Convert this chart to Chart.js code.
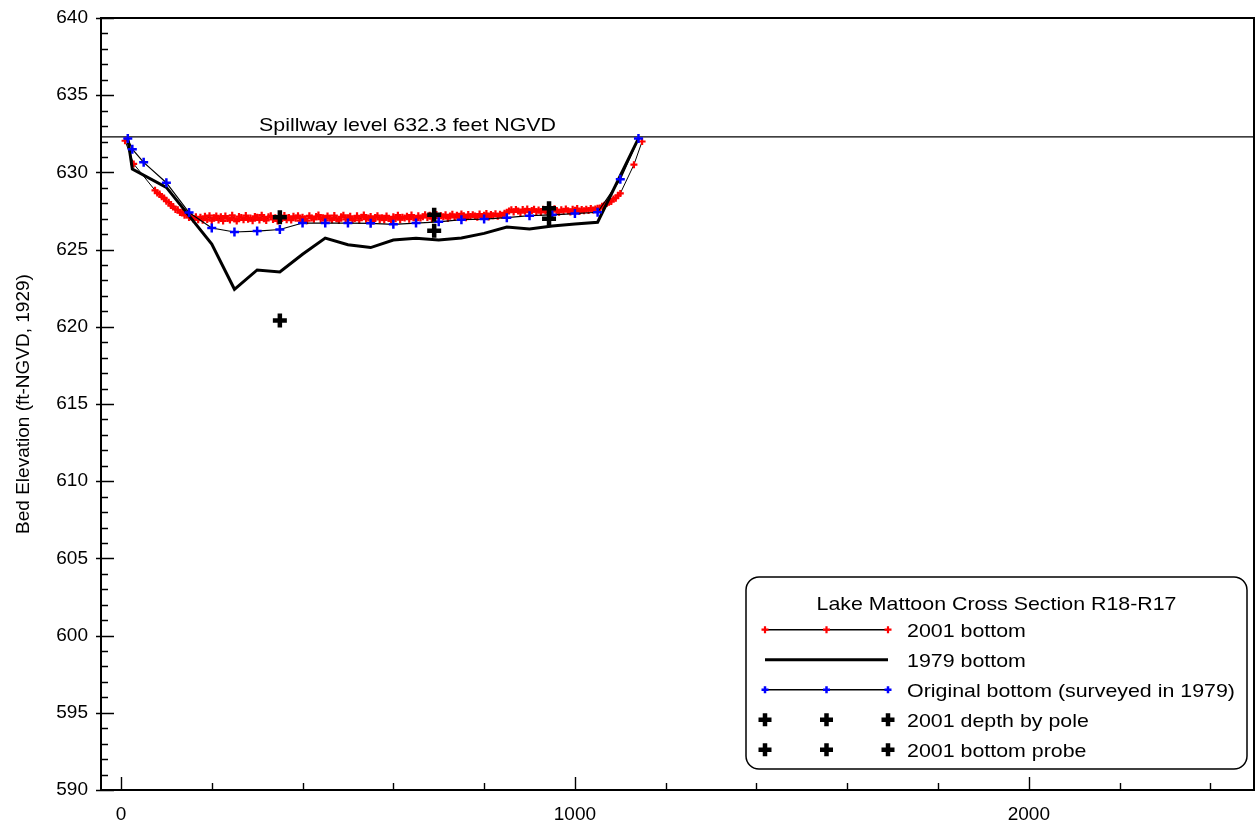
<!DOCTYPE html>
<html>
<head>
<meta charset="utf-8">
<title>Lake Mattoon Cross Section R18-R17</title>
<script src="https://cdn.jsdelivr.net/npm/chart.js@4.4.1/dist/chart.umd.min.js"></script>
<style>
  html, body { margin: 0; padding: 0; background: #ffffff; }
  #wrap { width: 1258px; height: 828px; }
</style>
</head>
<body>
<div id="wrap"><canvas id="chart" width="1258" height="828"></canvas></div>
<script>
// ---- Survey data: station (ft along section) and bed elevation (ft NGVD 1929) ----

// 2001 bottom (dense sounding record)
const stations2001 = [
  9, 28,
  75, 80, 85, 90, 95, 100, 105, 110, 115, 120,
  125, 130, 135, 140, 145, 150, 155, 160, 165, 170,
  175, 180, 185, 190, 195, 200, 205, 210, 215, 220,
  225, 230, 235, 240, 245, 250, 255, 260, 265, 270,
  275, 280, 285, 290, 295, 300, 305, 310, 315, 320,
  325, 330, 335, 340, 345, 350, 355, 360, 365, 370,
  375, 380, 385, 390, 395, 400, 405, 410, 415, 420,
  425, 430, 435, 440, 445, 450, 455, 460, 465, 470,
  475, 480, 485, 490, 495, 500, 505, 510, 515, 520,
  525, 530, 535, 540, 545, 550, 555, 560, 565, 570,
  575, 580, 585, 590, 595, 600, 605, 610, 615, 620,
  625, 630, 635, 640, 645, 650, 655, 660, 665, 670,
  675, 680, 685, 690, 695, 700, 705, 710, 715, 720,
  725, 730, 735, 740, 745, 750, 755, 760, 765, 770,
  775, 780, 785, 790, 795, 800, 805, 810, 815, 820,
  825, 830, 835, 840, 845, 850, 855, 860, 865, 870,
  875, 880, 885, 890, 895, 900, 905, 910, 915, 920,
  925, 930, 935, 940, 945, 950, 955, 960, 965, 970,
  975, 980, 985, 990, 995, 1000, 1005, 1010, 1015, 1020,
  1025, 1030, 1035, 1040, 1045, 1050, 1055, 1060, 1065, 1070,
  1075, 1080, 1085, 1090, 1095, 1100,
  1130, 1148
];
const elev2001 = [
  632.05, 630.55,
  628.84, 628.66, 628.60, 628.42, 628.35, 628.13, 628.07, 627.85, 627.79, 627.60,
  627.58, 627.40, 627.42, 627.22, 627.26, 627.08, 627.16, 626.97, 627.12, 626.93,
  627.10, 626.90, 627.16, 626.95, 627.20, 626.88, 627.06, 627.18, 626.92, 627.12,
  626.86, 627.17, 627.02, 626.91, 627.22, 627.00, 626.85, 627.14, 627.08, 626.93,
  627.21, 626.97, 627.04, 626.87, 627.15, 627.09, 626.92, 627.23, 627.00, 626.89,
  627.12, 627.19, 626.95, 627.06, 626.86, 627.17, 627.02, 627.21, 626.93, 627.08,
  626.91, 627.16, 627.03, 627.20, 626.88, 627.10, 627.00, 626.87, 627.19, 627.05,
  626.96, 627.14, 627.24, 626.97, 627.07, 626.89, 627.18, 627.03, 626.93, 627.21,
  627.00, 626.88, 627.12, 627.22, 626.95, 627.06, 627.16, 626.91, 627.02, 627.19,
  626.90, 627.10, 627.24, 626.97, 627.04, 627.15, 626.86, 627.08, 627.20, 626.95,
  627.06, 626.92, 627.18, 627.02, 626.88, 627.12, 627.00, 627.23, 626.94, 627.10,
  627.04, 627.16, 626.97, 627.24, 627.07, 626.93, 627.19, 627.05, 627.13, 627.26,
  627.08, 627.22, 627.00, 627.17, 627.28, 627.05, 627.20, 627.12, 627.25, 627.02,
  627.18, 627.29, 627.08, 627.23, 627.12, 627.31, 627.19, 627.06, 627.27, 627.14,
  627.26, 627.18, 627.09, 627.30, 627.15, 627.23, 627.33, 627.11, 627.28, 627.20,
  627.32, 627.16, 627.29, 627.22, 627.36, 627.42, 627.50, 627.58, 627.44, 627.60,
  627.50, 627.40, 627.59, 627.48, 627.63, 627.42, 627.54, 627.61, 627.45, 627.57,
  627.41, 627.62, 627.50, 627.43, 627.60, 627.47, 627.64, 627.53, 627.42, 627.58,
  627.48, 627.63, 627.51, 627.43, 627.61, 627.55, 627.66, 627.46, 627.59, 627.52,
  627.62, 627.54, 627.67, 627.57, 627.63, 627.68, 627.70, 627.80, 627.88, 627.98,
  628.06, 628.12, 628.28, 628.33, 628.52, 628.64,
  630.50, 632.00
];

// 1979 bottom
const stations1979 = [15, 25, 100, 200, 250, 300, 350, 400, 450, 500, 550, 600, 650, 700, 750, 800, 850, 900, 950, 1000, 1050, 1140];
const elev1979 = [632.2, 630.22, 629.03, 625.36, 622.43, 623.68, 623.55, 624.70, 625.75, 625.32, 625.13, 625.62, 625.73, 625.62, 625.75, 626.05, 626.46, 626.33, 626.53, 626.66, 626.77, 632.2];

// Original bottom (surveyed in 1979)
const stationsOriginal = [15, 25, 50, 100, 150, 200, 250, 300, 350, 400, 450, 500, 550, 600, 650, 700, 750, 800, 850, 900, 950, 1000, 1050, 1100, 1140];
const elevOriginal = [632.2, 631.5, 630.65, 629.33, 627.4, 626.4, 626.14, 626.2, 626.3, 626.72, 626.72, 626.72, 626.7, 626.64, 626.72, 626.8, 626.94, 626.98, 627.07, 627.2, 627.25, 627.33, 627.42, 629.55, 632.2];

// 2001 spot measurements
const poleStations = [350, 690, 943];
const poleElev = [627.1, 627.25, 627.68];
const probeStations = [350, 690, 943];
const probeElev = [620.4, 626.22, 627.0];

// Spillway crest
const spillwayLevel = 632.3;

// Axis tick labels
const xTickLabels = [0, 1000, 2000];
const xMinorTicks = [0, 200, 400, 600, 800, 1000, 1200, 1400, 1600, 1800, 2000, 2200, 2400];
const yTickLabels = [590, 595, 600, 605, 610, 615, 620, 625, 630, 635, 640];

// ---- Drawing ----
const FONT = "'Liberation Sans', Arial, Helvetica, sans-serif";
const TEXT_STRETCH = 1.125;

function toPoints(xs, ys) {
  return xs.map((x, i) => ({ x: x, y: ys[i] }));
}

function drawCross(ctx, cx, cy, r, lw, color) {
  ctx.save();
  ctx.strokeStyle = color;
  ctx.lineWidth = lw;
  ctx.beginPath();
  ctx.moveTo(cx - r, cy); ctx.lineTo(cx + r, cy);
  ctx.moveTo(cx, cy - r); ctx.lineTo(cx, cy + r);
  ctx.stroke();
  ctx.restore();
}

function wideText(ctx, text, x, baseline, size, align) {
  ctx.save();
  ctx.font = size + 'px ' + FONT;
  ctx.fillStyle = '#000';
  ctx.textAlign = 'left';
  ctx.textBaseline = 'alphabetic';
  const w = ctx.measureText(text).width * TEXT_STRETCH;
  const x0 = align === 'center' ? x - w / 2 : x;
  ctx.translate(x0, baseline);
  ctx.scale(TEXT_STRETCH, 1);
  ctx.fillText(text, 0, 0);
  ctx.restore();
}

const STYLE = {
  s2001: { line: 1, r: 3.5, lw: 2.2, color: '#ff0000' },
  s1979: { line: 3 },
  orig: { line: 1.2, r: 4.5, lw: 2.5, color: '#0000ff' },
  spot: { r: 7, lw: 4.5, color: '#000000' }
};

// Spillway reference line and its label
const spillwayPlugin = {
  id: 'spillway',
  beforeDatasetsDraw(chart) {
    const { ctx, chartArea: a, scales: { y } } = chart;
    const py = y.getPixelForValue(spillwayLevel);
    ctx.save();
    ctx.strokeStyle = '#000';
    ctx.lineWidth = 1.3;
    ctx.beginPath();
    ctx.moveTo(a.left, py);
    ctx.lineTo(a.right, py);
    ctx.stroke();
    ctx.restore();
    wideText(ctx, 'Spillway level 632.3 feet NGVD', a.left + 158, py - 6, 19, 'left');
  }
};

// Box frame with inward major/minor ticks
const framePlugin = {
  id: 'frame',
  afterDatasetsDraw(chart) {
    const { ctx, chartArea: a, scales: { x, y } } = chart;
    ctx.save();
    ctx.strokeStyle = '#000';
    ctx.lineWidth = 1.4;
    ctx.beginPath();
    for (let v = yTickLabels[0]; v <= yTickLabels[yTickLabels.length - 1]; v += 1) {
      const py = Math.round(y.getPixelForValue(v)) + 0.5;
      const major = yTickLabels.includes(v);
      ctx.moveTo(a.left - (major ? 5 : 0), py);
      ctx.lineTo(a.left + (major ? 13 : 7), py);
    }
    xMinorTicks.forEach(v => {
      const px = Math.round(x.getPixelForValue(v)) + 0.5;
      const major = xTickLabels.includes(v);
      ctx.moveTo(px, a.bottom);
      ctx.lineTo(px, a.bottom - (major ? 13 : 7));
    });
    ctx.stroke();
    ctx.lineWidth = 2;
    ctx.strokeRect(a.left, a.top, a.right - a.left, a.bottom - a.top);
    ctx.restore();
  }
};

// Boxed legend in the lower right of the plot
const legendPlugin = {
  id: 'boxLegend',
  afterDraw(chart) {
    const ctx = chart.ctx;
    const L = 746, T = 577, R = 1247, B = 769, rad = 13;
    ctx.save();
    ctx.fillStyle = '#fff';
    ctx.strokeStyle = '#000';
    ctx.lineWidth = 1.5;
    ctx.beginPath();
    ctx.roundRect(L, T, R - L, B - T, rad);
    ctx.fill();
    ctx.stroke();
    ctx.restore();

    wideText(ctx, 'Lake Mattoon Cross Section R18-R17', (L + R) / 2, 609.5, 19, 'center');

    const x0 = 765, x1 = 888, xm = (x0 + x1) / 2, tx = 907;
    const rows = [
      { text: '2001 bottom', kind: 's2001' },
      { text: '1979 bottom', kind: 's1979' },
      { text: 'Original bottom (surveyed in 1979)', kind: 'orig' },
      { text: '2001 depth by pole', kind: 'spot' },
      { text: '2001 bottom probe', kind: 'spot' }
    ];
    rows.forEach((row, i) => {
      const base = 636.7 + i * 30;
      const sy = base - 7;
      const st = STYLE[row.kind];
      if (st.line) {
        ctx.save();
        ctx.strokeStyle = '#000';
        ctx.lineWidth = row.kind === 's1979' ? 3 : 1.5;
        ctx.beginPath();
        ctx.moveTo(x0, sy);
        ctx.lineTo(x1, sy);
        ctx.stroke();
        ctx.restore();
      }
      if (st.r) {
        const r = row.kind === 'spot' ? 6.5 : 3.5;
        [x0, xm, x1].forEach(px => drawCross(ctx, px, sy, r, st.lw, st.color));
      }
      wideText(ctx, row.text, tx, base, 19, 'left');
    });
  }
};

const tickFont = { family: FONT, size: 19 };

function noScalePadding(s) {
  s.paddingTop = 0;
  s.paddingBottom = 0;
  s.paddingLeft = 0;
  s.paddingRight = 0;
}

new Chart(document.getElementById('chart'), {
  type: 'scatter',
  data: {
    datasets: [
      {
        label: '2001 depth by pole',
        data: toPoints(poleStations, poleElev),
        showLine: false,
        pointStyle: 'cross',
        pointRadius: STYLE.spot.r,
        pointBorderWidth: STYLE.spot.lw,
        pointBorderColor: STYLE.spot.color,
        order: 0
      },
      {
        label: '2001 bottom probe',
        data: toPoints(probeStations, probeElev),
        showLine: false,
        pointStyle: 'cross',
        pointRadius: STYLE.spot.r,
        pointBorderWidth: STYLE.spot.lw,
        pointBorderColor: STYLE.spot.color,
        order: 0
      },
      {
        label: 'Original bottom (surveyed in 1979)',
        data: toPoints(stationsOriginal, elevOriginal),
        showLine: true,
        borderColor: '#000',
        borderWidth: STYLE.orig.line,
        pointStyle: 'cross',
        pointRadius: STYLE.orig.r,
        pointBorderWidth: STYLE.orig.lw,
        pointBorderColor: STYLE.orig.color,
        order: 1
      },
      {
        label: '1979 bottom',
        data: toPoints(stations1979, elev1979),
        showLine: true,
        borderColor: '#000',
        borderWidth: STYLE.s1979.line,
        pointRadius: 0,
        order: 2
      },
      {
        label: '2001 bottom',
        data: toPoints(stations2001, elev2001),
        showLine: true,
        borderColor: '#000',
        borderWidth: STYLE.s2001.line,
        pointStyle: 'cross',
        pointRadius: STYLE.s2001.r,
        pointBorderWidth: STYLE.s2001.lw,
        pointBorderColor: STYLE.s2001.color,
        order: 3
      }
    ]
  },
  options: {
    responsive: false,
    animation: false,
    events: [],
    layout: { autoPadding: false, padding: { top: 18, right: 4, left: 0, bottom: 0 } },
    plugins: { legend: { display: false }, tooltip: { enabled: false } },
    scales: {
      x: {
        type: 'linear',
        min: -44,
        max: 2496,
        afterBuildTicks: s => { s.ticks = xTickLabels.map(v => ({ value: v })); },
        afterFit: s => { s.height = 38; noScalePadding(s); },
        grid: { display: false, drawTicks: false },
        border: { display: false },
        ticks: {
          font: tickFont, color: '#000', padding: 13, maxRotation: 0, autoSkip: false,
          callback: v => String(v)
        }
      },
      y: {
        type: 'linear',
        min: 590,
        max: 640,
        afterBuildTicks: s => { s.ticks = yTickLabels.map(v => ({ value: v })); },
        afterFit: s => { s.width = 101; noScalePadding(s); },
        grid: { display: false, drawTicks: false },
        border: { display: false },
        ticks: { font: tickFont, color: '#000', padding: 13, callback: v => String(v) },
        title: {
          display: true,
          text: 'Bed Elevation (ft-NGVD, 1929)',
          font: { family: FONT, size: 19 },
          color: '#000',
          padding: { top: 12, bottom: 0 }
        }
      }
    }
  },
  plugins: [spillwayPlugin, framePlugin, legendPlugin]
});
</script>
</body>
</html>
